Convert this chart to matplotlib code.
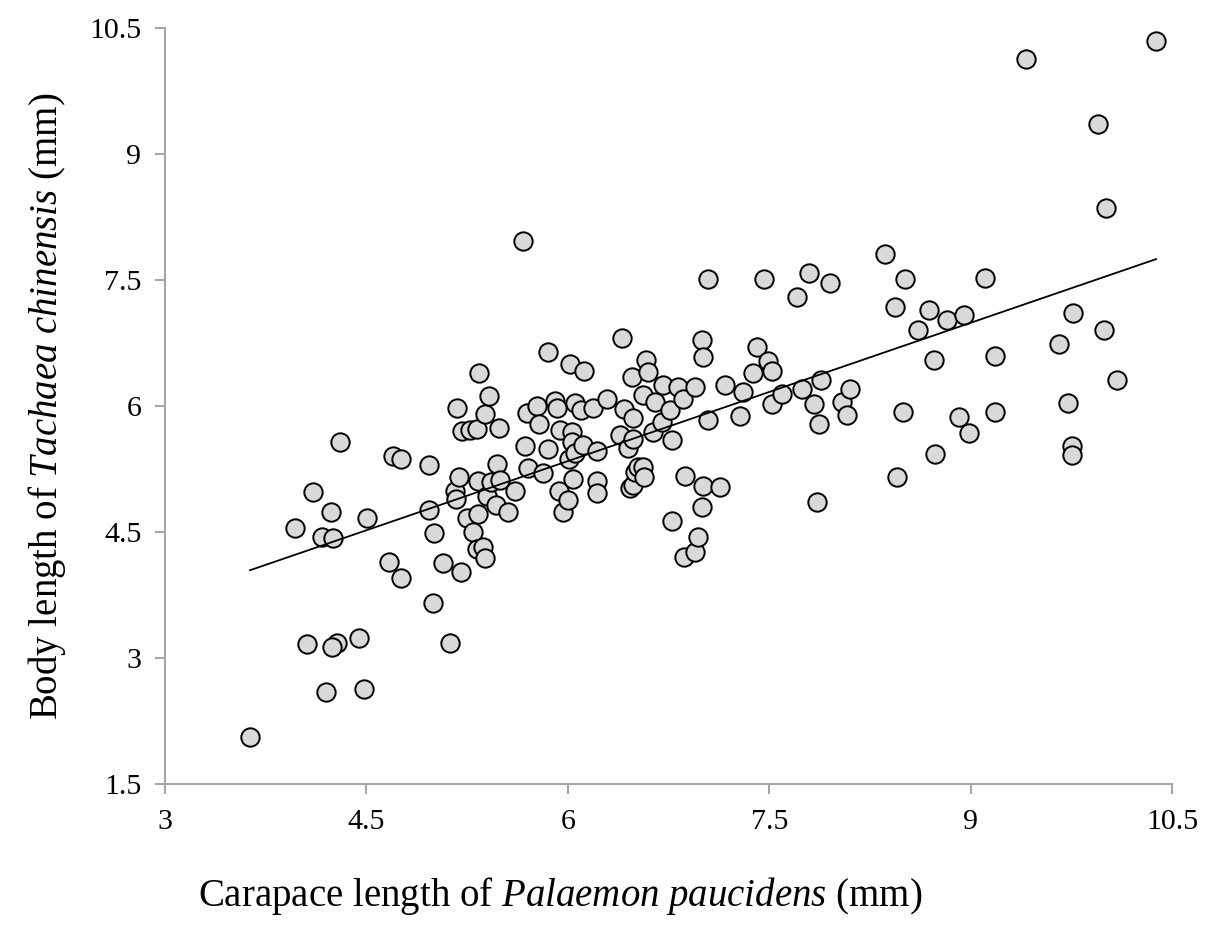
import matplotlib
matplotlib.use("Agg")
import matplotlib.pyplot as plt
import numpy as np

# Carapace length of Palaemon paucidens (mm)
CARAPACE = [
    3.633, 3.968, 4.058, 4.102, 4.169, 4.199, 4.236, 4.251, 4.281, 4.244,
    4.303, 4.445, 4.482, 4.505, 4.668, 4.698, 4.758, 4.758,
    4.966, 4.966, 5.004, 4.996, 5.071, 5.123, 5.160, 5.167, 5.175, 5.190,
    5.212, 5.205, 5.249, 5.272, 5.294, 5.324, 5.324, 5.331, 5.331, 5.339,
    5.368, 5.383, 5.383, 5.398, 5.413, 5.428, 5.465, 5.473, 5.488, 5.495,
    5.555, 5.607, 5.666, 5.681, 5.696, 5.704, 5.771, 5.786, 5.815, 5.853,
    5.853, 5.905, 5.920, 5.935, 5.942, 5.964, 6.002, 6.009, 6.016, 6.031,
    6.031, 6.039, 6.054, 6.054, 6.098, 6.113, 6.121,
    6.188, 6.218, 6.218, 6.218, 6.292, 6.389, 6.404, 6.419, 6.448, 6.463,
    6.478, 6.486, 6.486, 6.486, 6.501, 6.523, 6.560, 6.560, 6.568, 6.582,
    6.597, 6.635, 6.650, 6.702, 6.709, 6.761, 6.776, 6.776, 6.821, 6.858,
    6.866, 6.873, 6.947, 6.947, 6.970, 7.000, 7.000, 7.007, 7.007, 7.044,
    7.044, 7.134, 7.171, 7.283, 7.305,
    7.380, 7.409, 7.461, 7.491, 7.521, 7.521, 7.595, 7.707, 7.744, 7.796,
    7.834, 7.856, 7.871, 7.886, 7.953, 8.042, 8.080, 8.102, 8.363, 8.437,
    8.452, 8.512, 8.497,
    8.608, 8.690, 8.728, 8.735, 8.824, 8.914, 8.951, 8.988, 9.107, 9.182,
    9.182, 9.413, 9.659, 9.726, 9.755, 9.755, 9.763, 9.949, 9.994, 10.009,
    10.091, 10.381,
]

# Body length of Tachaea chinensis (mm)
BODY = [
    2.060, 4.548, 3.167, 4.976, 4.440, 2.595, 4.738, 4.429, 3.179, 3.131,
    5.571, 3.238, 2.631, 4.667, 4.143, 5.405, 5.369, 3.952,
    5.298, 4.762, 4.488, 3.655, 4.131, 3.179, 4.988, 4.893, 5.976, 5.155,
    5.702, 4.024, 4.667, 5.714, 4.500, 5.726, 4.298, 5.107, 4.714, 6.393,
    4.321, 5.905, 4.190, 4.929, 6.119, 5.095, 4.821, 5.310, 5.738, 5.119,
    4.738, 4.988, 7.964, 5.524, 5.917, 5.262, 6.000, 5.786, 5.202, 6.643,
    5.488, 6.060, 5.976, 4.988, 5.714, 4.738, 4.881, 5.369, 6.500, 5.690,
    5.571, 5.131, 6.036, 5.440, 5.952, 5.536, 6.417,
    5.976, 5.464, 5.107, 4.964, 6.083, 5.655, 6.810, 5.964, 5.500, 5.024,
    6.345, 5.857, 5.607, 5.060, 5.214, 5.274, 6.131, 5.274, 5.155, 6.548,
    6.405, 5.690, 6.048, 5.810, 6.250, 5.952, 5.595, 4.631, 6.226, 6.083,
    4.202, 5.167, 6.226, 4.262, 4.440, 6.786, 4.798, 6.583, 5.048, 7.512,
    5.833, 5.036, 6.250, 5.881, 6.167,
    6.393, 6.702, 7.512, 6.536, 6.417, 6.024, 6.143, 7.298, 6.202, 7.583,
    6.024, 4.857, 5.786, 6.310, 7.464, 6.048, 5.893, 6.202, 7.810, 7.179,
    5.155, 7.512, 5.929,
    6.905, 7.143, 6.548, 5.429, 7.024, 5.869, 7.083, 5.679, 7.524, 6.595,
    5.929, 10.131, 6.738, 6.036, 5.524, 5.417, 7.107, 9.357, 6.905, 8.357,
    6.310, 10.345,
]

TICKS = [1.5, 3, 4.5, 6, 7.5, 9, 10.5]
TICK_LABELS = ["1.5", "3", "4.5", "6", "7.5", "9", "10.5"]

plt.rcParams["font.family"] = ["Liberation Serif", "DejaVu Serif"]
plt.rcParams["mathtext.fontset"] = "custom"
plt.rcParams["mathtext.rm"] = "Liberation Serif"
plt.rcParams["mathtext.it"] = "Liberation Serif:italic"

AXIS_GRAY = "#a6a6a6"


def main() -> None:
    fig = plt.figure(figsize=(12.09, 9.43), dpi=100)
    ax = fig.add_axes([0.1365, 0.1686, 0.9694 - 0.1365, 0.9703 - 0.1686])

    x = np.array(CARAPACE)
    y = np.array(BODY)

    ax.scatter(x, y, s=175, facecolor="#d9d9d9", edgecolor="black",
               linewidth=1.4, zorder=3)

    # Linear trend line across the data range.
    slope, intercept = np.polyfit(x, y, 1)
    x_line = np.array([x.min(), x.max()])
    ax.plot(x_line, slope * x_line + intercept, color="black", linewidth=1.3, zorder=4)

    ax.set_xlim(3, 10.5)
    ax.set_ylim(1.5, 10.5)
    ax.set_xticks(TICKS[1:])
    ax.set_xticklabels(TICK_LABELS[1:])
    ax.set_yticks(TICKS)
    ax.set_yticklabels(TICK_LABELS)

    for side in ("top", "right"):
        ax.spines[side].set_visible(False)
    for side in ("left", "bottom"):
        ax.spines[side].set_color(AXIS_GRAY)
        ax.spines[side].set_linewidth(1.5)

    ax.tick_params(axis="both", direction="out", length=7, width=1.5,
                   color=AXIS_GRAY, labelsize=21.5)
    ax.tick_params(axis="y", pad=10)
    ax.tick_params(axis="x", pad=11)

    ax.set_xlabel(r"Carapace length of $\it{Palaemon\ paucidens}$ (mm)", fontsize=28)
    ax.xaxis.set_label_coords(0.392, -0.121)
    ax.set_ylabel(r"Body length of $\it{Tachaea\ chinensis}$ (mm)",
                  fontsize=28, labelpad=15)

    fig.savefig("out.png", dpi=100)


if __name__ == "__main__":
    main()
